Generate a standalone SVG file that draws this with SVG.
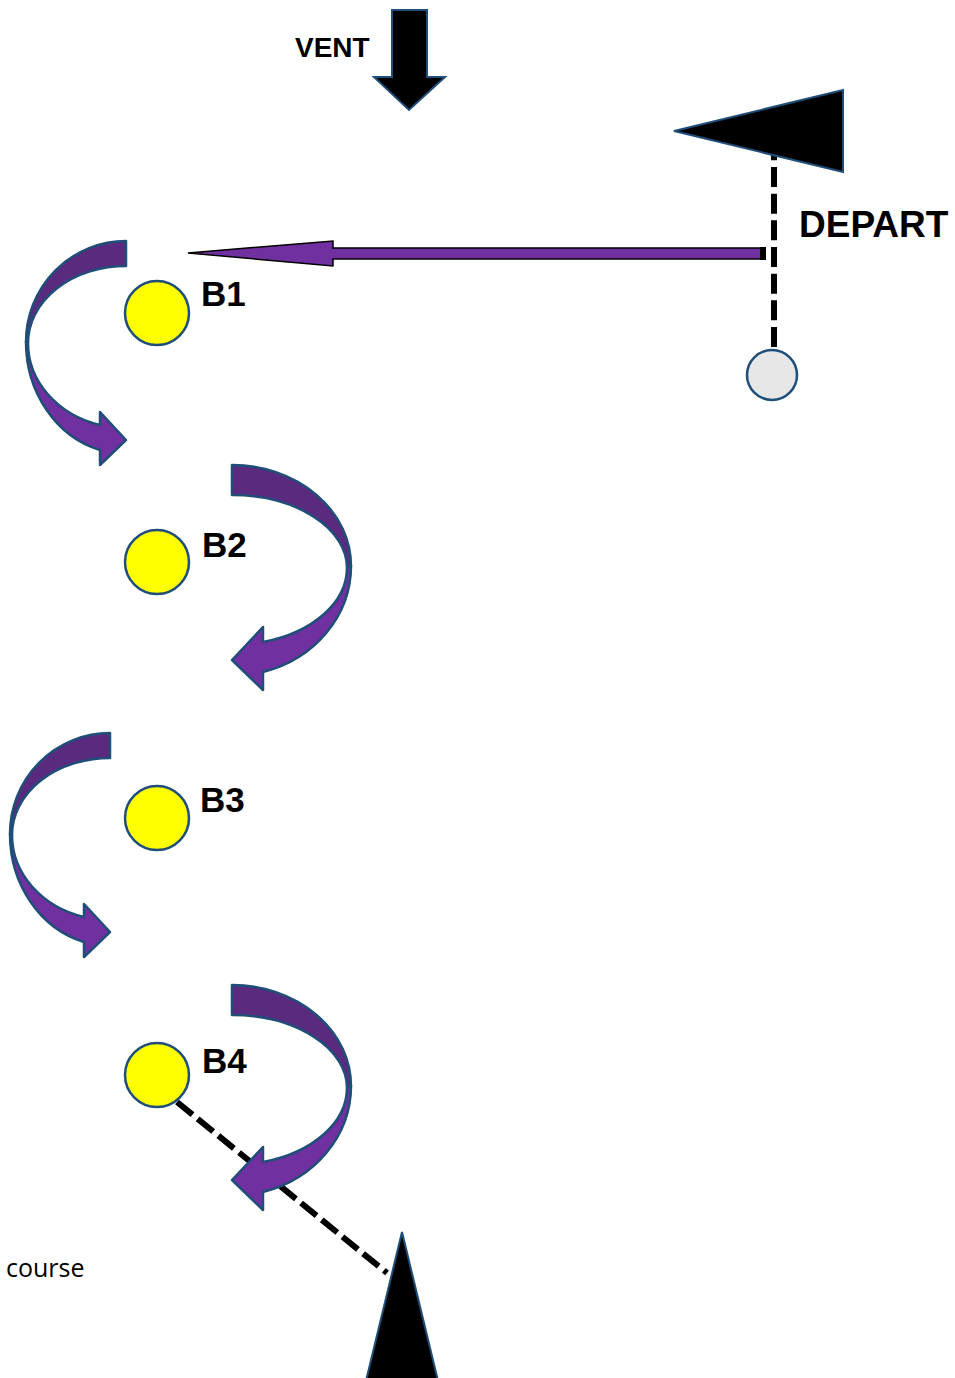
<svg xmlns="http://www.w3.org/2000/svg" width="955" height="1378" viewBox="0 0 955 1378">
<style>
.lbl{font-family:"Liberation Sans",Arial,sans-serif;font-weight:bold;fill:#000}
.buoy{fill:#ffff00;stroke:#1f4e79;stroke-width:2.5}
.dash{stroke:#000;stroke-width:6;stroke-dasharray:20 6.67;fill:none}
.back{fill:#5a2a7e;stroke:#1f4e79;stroke-width:2.5;stroke-linejoin:round}
.front{fill:#7030a0;stroke:#1f4e79;stroke-width:2.5;stroke-linejoin:round}
.mark{fill:#000;stroke:#1f4e79;stroke-width:2}
</style>
<defs>
<g id="curveL">
<path class="back" d="M126,241 L126,266 A98,77 0 0 0 28,343 L26,342 A100,101 0 0 1 126,241 Z"/>
<path class="front" d="M26,342 A100,112 0 0 0 100,450 L100,465 L126,440 L100,412 L100,425 A98,85 0 0 1 28,343 Z"/>
</g>
<g id="curveR">
<path class="back" d="M232,465 L232,495 A115,73 0 0 1 347,568 L351,566 A119,101 0 0 0 232,465 Z"/>
<path class="front" d="M351,566 A119,110 0 0 1 263,672 L263,690 L232,660 L263,627 L263,642 A115,77 0 0 0 347,568 Z"/>
</g>
</defs>
<rect width="955" height="1378" fill="#fff"/>
<g id="connectors">
<line class="dash" x1="774" y1="347" x2="774" y2="150"/>
<line class="dash" x1="177" y1="1102" x2="387" y2="1273"/>
<g id="course-arrow">
<polygon points="188,253 333,241 333,248 761,248 761,259 333,259 333,266" fill="#7030a0" stroke="#000" stroke-width="1.5" stroke-linejoin="miter"/>
<rect x="760" y="247" width="6" height="13" fill="#000"/>
</g>
</g>
<g id="wind">
<polygon class="mark" points="392,10 427,10 427,77 445,77 409,110 374,77 392,77"/>
<text class="lbl" x="295" y="57" font-size="28">VENT</text>
</g>
<g id="start-flag">
<polygon class="mark" points="674,131 843,90 843,172"/>
<text class="lbl" x="799" y="237" font-size="37">DEPART</text>
</g>
<g id="start-buoy">
<circle cx="772" cy="375" r="25" fill="#e7e7e7" stroke="#1f4e79" stroke-width="2.5"/>
</g>
<g id="B1">
<use href="#curveL"/>
<circle class="buoy" cx="157" cy="313" r="32"/>
<text class="lbl" x="201" y="306" font-size="35">B1</text>
</g>
<g id="B2">
<use href="#curveR"/>
<circle class="buoy" cx="157" cy="562" r="32"/>
<text class="lbl" x="202" y="557" font-size="35">B2</text>
</g>
<g id="B3">
<use href="#curveL" transform="translate(-16,492)"/>
<circle class="buoy" cx="157" cy="818" r="32"/>
<text class="lbl" x="200" y="812" font-size="35">B3</text>
</g>
<g id="B4">
<use href="#curveR" transform="translate(0,520)"/>
<circle class="buoy" cx="157" cy="1075" r="32"/>
<text class="lbl" x="202" y="1073" font-size="35">B4</text>
</g>
<g id="finish">
<polygon class="mark" points="402,1232 439,1385 365,1385"/>
</g>
<g id="note">
<text x="6" y="1277" font-family="'Open Sans',sans-serif" font-size="25" fill="#000">course</text>
</g>
</svg>
